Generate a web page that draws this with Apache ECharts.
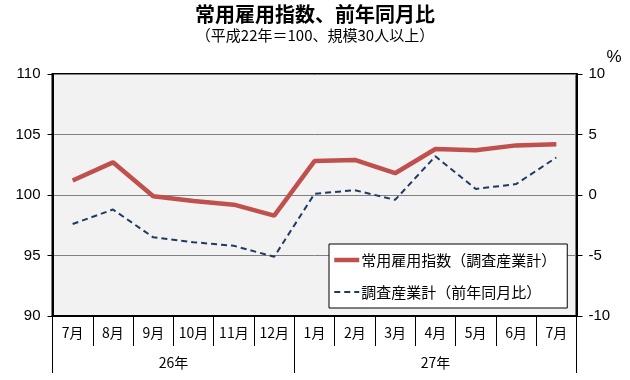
<!DOCTYPE html>
<html>
<head>
<meta charset="utf-8">
<script src="https://cdn.jsdelivr.net/npm/echarts@6/dist/echarts.min.js"></script>
<style>
html,body{margin:0;padding:0;background:#fff;}
#c{width:630px;height:380px;}
</style>
</head>
<body>
<div id="c"></div>
<script>
// ---- data ----
const months = ['7月','8月','9月','10月','11月','12月','1月','2月','3月','4月','5月','6月','7月'];
const yearLabels = ['26年','27年'];
const yearSpans = [6, 7];
const employmentIndex = [101.2, 102.7, 99.9, 99.5, 99.2, 98.3, 102.8, 102.9, 101.8, 103.8, 103.7, 104.1, 104.2];
const yoyChange = [-2.4, -1.2, -3.5, -3.9, -4.2, -5.1, 0.1, 0.4, -0.4, 3.2, 0.5, 0.9, 3.1];
const leftTicks = {min: 90, max: 110, interval: 5};
const rightTicks = {min: -10, max: 10, interval: 5};
const seriesNames = ['常用雇用指数（調査産業計）', '調査産業計（前年同月比）'];

// year group boundaries and label centers on a 0..N value scale
const yearBounds = [0];
yearSpans.forEach(s => yearBounds.push(yearBounds[yearBounds.length - 1] + s));
const yearCenters = yearSpans.map((s, i) => yearBounds[i] + s / 2);

const JP = '"Noto Sans CJK JP", sans-serif';
const NUM = '"Liberation Sans", Arial, sans-serif';

const chart = echarts.init(document.getElementById('c'), null, {renderer: 'canvas'});
chart.setOption({
  animation: false,
  backgroundColor: '#ffffff',
  title: {
    text: '常用雇用指数、前年同月比',
    subtext: '（平成22年＝100、規模30人以上）',
    left: 'center',
    top: 4,
    padding: 0,
    itemGap: 4,
    textStyle: {fontFamily: JP, fontSize: 20, fontWeight: 'bold', color: '#000'},
    subtextStyle: {fontFamily: JP, fontSize: 15, color: '#000'}
  },
  grid: {
    left: 52.5, right: 53.5, top: 74, bottom: 64,
    show: true, backgroundColor: '#f2f2f2', borderColor: '#000', borderWidth: 2
  },
  legend: {
    orient: 'vertical',
    left: 329, top: 244,
    padding: [7, 11, 7, 3],
    itemGap: 14,
    itemWidth: 25, itemHeight: 14,
    itemStyle: {opacity: 0},
    backgroundColor: '#fff', borderColor: '#000', borderWidth: 1, borderRadius: 0,
    textStyle: {fontFamily: JP, fontSize: 15, color: '#000', lineHeight: 18, padding: [0,0,0,-3]},
    data: [
      {name: seriesNames[0], lineStyle: {width: 4.5, color: '#c0504d'}},
      {name: seriesNames[1], lineStyle: {width: 2, color: '#1f3a60', type: [6, 4]}}
    ]
  },
  xAxis: [
    {
      type: 'category', data: months, position: 'bottom',
      boundaryGap: true,
      axisLine: {show: true, onZero: false, lineStyle: {color: '#000', width: 2}},
      axisTick: {show: true, interval: 0, length: 30, lineStyle: {color: '#000', width: 1}},
      axisLabel: {interval: 0, margin: 10, fontFamily: JP, fontSize: 14, color: '#000'},
      splitLine: {show: false}
    },
    {
      type: 'value', position: 'bottom',
      min: 0, max: yearBounds[yearBounds.length - 1],
      axisLine: {show: false, onZero: false},
      axisTick: {show: true, customValues: yearBounds, length: 57, lineStyle: {color: '#000', width: 1}},
      axisLabel: {
        customValues: yearCenters, margin: 40, fontFamily: JP, fontSize: 14, color: '#000',
        formatter: v => yearLabels[yearCenters.indexOf(v)]
      },
      splitLine: {show: false}
    }
  ],
  yAxis: [
    {
      type: 'value', min: leftTicks.min, max: leftTicks.max, interval: leftTicks.interval,
      axisLine: {show: true, onZero: false, lineStyle: {color: '#000', width: 2}},
      axisTick: {show: true, length: 5, lineStyle: {color: '#000'}},
      axisLabel: {margin: 12, fontFamily: NUM, fontSize: 15, color: '#000'},
      splitLine: {show: true, lineStyle: {color: '#808080', width: 1}}
    },
    {
      type: 'value', position: 'right', min: rightTicks.min, max: rightTicks.max, interval: rightTicks.interval,
      name: '%', nameLocation: 'end', nameGap: 8,
      nameTextStyle: {fontFamily: NUM, fontSize: 17, color: '#000', align: 'left', padding: [0, 0, 0, 30]},
      axisLine: {show: true, onZero: false, lineStyle: {color: '#000', width: 2}},
      axisTick: {show: true, length: 6, lineStyle: {color: '#000'}},
      axisLabel: {margin: 12, fontFamily: NUM, fontSize: 15, color: '#000'},
      splitLine: {show: false}
    }
  ],
  series: [
    {
      name: seriesNames[0], type: 'line', xAxisIndex: 0, yAxisIndex: 0,
      data: employmentIndex, symbol: 'none',
      lineStyle: {color: '#c0504d', width: 4.5},
      itemStyle: {color: '#c0504d'}
    },
    {
      name: seriesNames[1], type: 'line', xAxisIndex: 0, yAxisIndex: 1,
      data: yoyChange, symbol: 'none',
      lineStyle: {color: '#1f3a60', width: 2, type: [6, 4]},
      itemStyle: {color: '#1f3a60'}
    }
  ]
});
</script>
</body>
</html>
